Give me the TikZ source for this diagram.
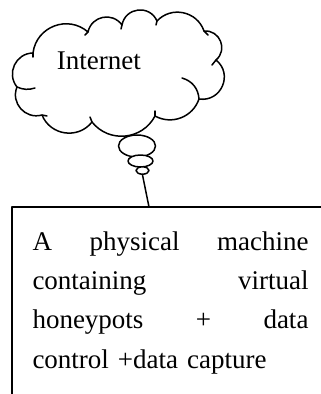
\documentclass[tikz,border=0pt]{standalone}
\usepackage{fontspec}
\setmainfont{Liberation Serif}
\usetikzlibrary{shapes.geometric}
\begin{document}
\begin{tikzpicture}[x=1pt,y=-1pt,
  ln/.style={line width=1.5pt, line join=round, line cap=round},
  bubble/.style={ln, draw, fill=white, ellipse, inner sep=0pt},
  txt/.style={inner sep=0pt, font=\fontsize{27pt}{39.4pt}\selectfont}]
\useasboundingbox (0,0) rectangle (321,394);
% cloud
\draw[ln, fill=white] (17,87) to[bend left=64, looseness=1.18] (33,53)
 to[bend left=62, looseness=1.16] (88,32)
 to[bend left=66, looseness=1.22] (122,25)
 to[bend left=73, looseness=1.32] (157,21)
 to[bend left=59, looseness=1.12] (204,31)
 to[bend left=72, looseness=1.30] (216,60)
 to[bend left=75, looseness=1.35] (199,99)
 to[bend left=50, looseness=1.04] (155,116)
 to[bend left=57, looseness=1.10] (92,122)
 to[bend left=60, looseness=1.13] (42,115)
 to[bend left=64, looseness=1.18] (17,87) -- cycle;
% inner strokes of the cloud
\draw[ln] (17,87) to[bend right=20] (35,88);
\draw[ln] (182,78) to[bend left=35] (199,99);
\draw[ln] (88,32) -- (85,35);
\draw[ln] (122,25) -- (121,29);
\draw[ln] (157,21) -- (156,25);
\draw[ln] (204,31) -- (208,35);
\draw[ln] (216,60) -- (212,65);
\draw[ln] (155,116) -- (155,111);
\draw[ln] (92,122) -- (90,117);
\draw[ln] (42,115) -- (47,116);
\draw[ln] (33,53) -- (33,57);
\node[txt, anchor=base west] (internet) at (56.7,69.3) {Internet};
% thought bubbles
\node[bubble, minimum width=37pt, minimum height=22pt] (b1) at (137,146) {};
\node[bubble, minimum width=25pt, minimum height=12pt] (b2) at (140.5,161) {};
\node[bubble, minimum width=13pt, minimum height=7.4pt] (b3) at (142.5,170.5) {};
% box
\coordinate (boxtl) at (12,207);
\coordinate (boxtr) at (321,207);
\coordinate (boxbl) at (12,394);
\coordinate (boxtop) at (149,207);
\draw[ln] (boxbl) -- (boxtl) -- (boxtr);
\draw[ln] (b3.south) -- (boxtop);
\node[txt, anchor=base west, text width=276pt, align=left] (body) at (32.3,250)
 {A\hfill physical\hfill machine\\
  containing\hfill virtual\\
  honeypots\hfill+\hfill data\\
  control +data capture};
\end{tikzpicture}
\end{document}
